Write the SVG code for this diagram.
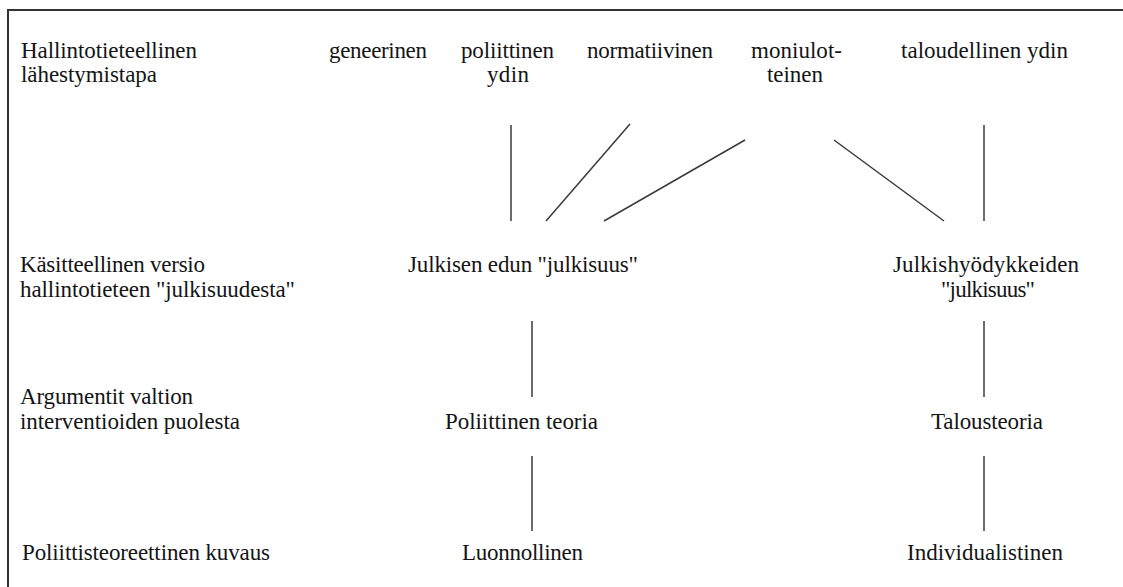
<svg xmlns="http://www.w3.org/2000/svg" width="1123" height="587" viewBox="0 0 1123 587">
<style>
text{font-family:"Liberation Serif","Times New Roman",serif;font-size:23px;fill:#141414}
.c line{stroke:#3a3a3a;stroke-width:1.5}
.frame{stroke:#333;stroke-width:2;fill:none}
</style>
<rect width="1123" height="587" fill="#fff"/>
<path class="frame" d="M8,587 V10 H1123"/>
<g id="row-labels">
<text x="21" y="58" textLength="176" lengthAdjust="spacing">Hallintotieteellinen</text>
<text x="21" y="82" textLength="136" lengthAdjust="spacing">lähestymistapa</text>
<text x="20" y="272" textLength="185" lengthAdjust="spacing">Käsitteellinen versio</text>
<text x="20" y="297" textLength="275" lengthAdjust="spacing">hallintotieteen "julkisuudesta"</text>
<text x="20" y="404" textLength="173" lengthAdjust="spacing">Argumentit valtion</text>
<text x="20" y="429" textLength="220" lengthAdjust="spacing">interventioiden puolesta</text>
<text x="22" y="560" textLength="248" lengthAdjust="spacing">Poliittisteoreettinen kuvaus</text>
</g>
<g id="geneerinen"><text x="329" y="58" textLength="98" lengthAdjust="spacing">geneerinen</text></g>
<g id="poliittinen-ydin">
<text x="461" y="58" textLength="93" lengthAdjust="spacing">poliittinen</text>
<text x="487" y="82" textLength="42" lengthAdjust="spacing">ydin</text>
</g>
<g id="normatiivinen"><text x="587" y="58" textLength="126" lengthAdjust="spacing">normatiivinen</text></g>
<g id="moniulotteinen">
<text x="751" y="58" textLength="91" lengthAdjust="spacing">moniulot-</text>
<text x="767" y="82" textLength="56" lengthAdjust="spacing">teinen</text>
</g>
<g id="taloudellinen-ydin"><text x="901" y="58" textLength="167" lengthAdjust="spacing">taloudellinen ydin</text></g>
<g id="julkisen-edun"><text x="408" y="272" textLength="230" lengthAdjust="spacing">Julkisen edun "julkisuus"</text></g>
<g id="julkishyodykkeiden">
<text x="893" y="272" textLength="186" lengthAdjust="spacing">Julkishyödykkeiden</text>
<text x="941" y="297" textLength="94" lengthAdjust="spacing">"julkisuus"</text>
</g>
<g id="poliittinen-teoria"><text x="445" y="429" textLength="153" lengthAdjust="spacing">Poliittinen teoria</text></g>
<g id="talousteoria"><text x="931" y="429" textLength="112" lengthAdjust="spacing">Talousteoria</text></g>
<g id="luonnollinen"><text x="462" y="560" textLength="121" lengthAdjust="spacing">Luonnollinen</text></g>
<g id="individualistinen"><text x="907" y="560" textLength="156" lengthAdjust="spacing">Individualistinen</text></g>
<g id="connectors" class="c">
<line x1="511" y1="125" x2="511" y2="221"/>
<line x1="630" y1="124" x2="546" y2="221"/>
<line x1="745" y1="140" x2="604" y2="221"/>
<line x1="834" y1="140" x2="944" y2="221"/>
<line x1="984" y1="125" x2="984" y2="221"/>
<line x1="532" y1="321" x2="532" y2="397"/>
<line x1="984" y1="321" x2="984" y2="397"/>
<line x1="532" y1="456" x2="532" y2="531"/>
<line x1="984" y1="456" x2="984" y2="531"/>
</g>
</svg>
